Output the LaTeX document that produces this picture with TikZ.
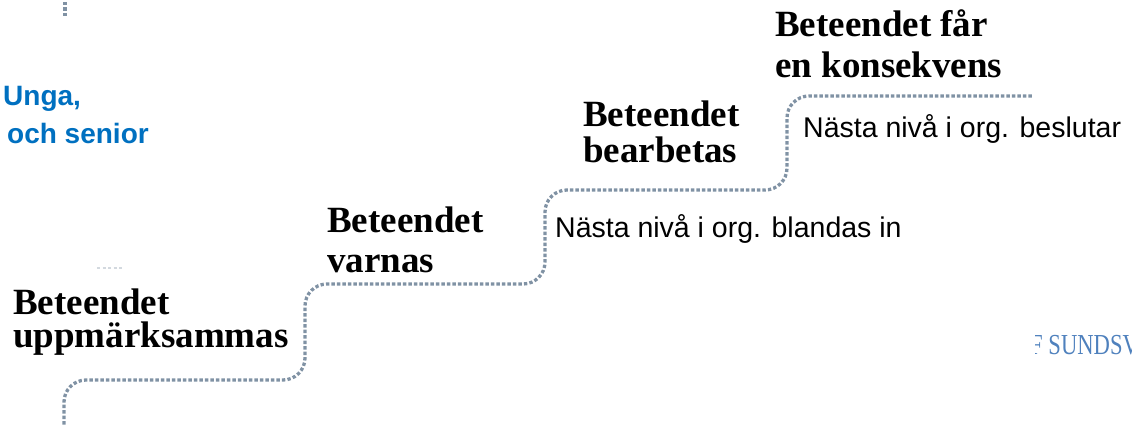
\documentclass[tikz,border=0pt]{standalone}
\usepackage{fontspec}
\setmainfont{Liberation Serif}
\newfontfamily\labelsans{Liberation Sans}
\begin{document}
\begin{tikzpicture}[x=1pt,y=-1pt,
  stair/.style={draw=stairgray,line width=3.3pt,dash pattern=on 3.3pt off 2.2pt,rounded corners=22pt},
  steptext/.style={anchor=base west,inner sep=0pt,font=\fontsize{37}{40}\selectfont\bfseries},
  sidenote/.style={anchor=base west,inner sep=0pt,font=\labelsans\fontsize{28.5}{32}\selectfont},
  bluehead/.style={anchor=base west,inner sep=0pt,text=headblue,font=\labelsans\bfseries\fontsize{28}{32}\selectfont}]
\definecolor{stairgray}{RGB}{128,146,164}
\definecolor{headblue}{RGB}{0,112,192}
\definecolor{footblue}{RGB}{79,129,189}
\useasboundingbox (0,0) rectangle (1132,425);

% dotted staircase
\draw[stair] (64,430) -- (64,380) -- (305,380) -- (305,284) -- (545,284)
  -- (545,190) -- (787,190) -- (787,96) -- (1032,96);
\draw[stair] (65,2) -- (65,17);
\draw[stair,draw=stairgray!35,line width=2pt] (97,268) -- (124,268);

% step labels
\node[steptext] (s1a) at (13,314) {Beteendet};
\node[steptext] (s1b) at (13,347) {uppmärksammas};
\node[steptext] (s2a) at (327,232) {Beteendet};
\node[steptext] (s2b) at (327,272) {varnas};
\node[steptext] (s3a) at (583,127) {Beteendet};
\node[steptext] (s3b) at (583,162) {bearbetas};
\node[steptext] (s4a) at (775,37) {Beteendet får};
\node[steptext] (s4b) at (775,78) {en konsekvens};

% notes beside the risers
\node[sidenote] (n1) at (555,237) {Nästa nivå i org. blandas in};
\node[sidenote] (n2) at (803,138) {Nästa nivå i org. beslutar};

% heading at the left
\node[bluehead] (u1) at (3,106) {Unga,};
\node[bluehead] (u2) at (7,143) {och senior};

% footer, cut off by the page edge
\begin{scope}
  \clip (1035,320) rectangle (1132,365);
  \node[anchor=base west,inner sep=0pt,text=footblue,font=\fontsize{29}{30}\selectfont] (ft) at (1030,354) {\scalebox{0.78}[1]{F SUNDSV}};
\end{scope}
\end{tikzpicture}
\end{document}
